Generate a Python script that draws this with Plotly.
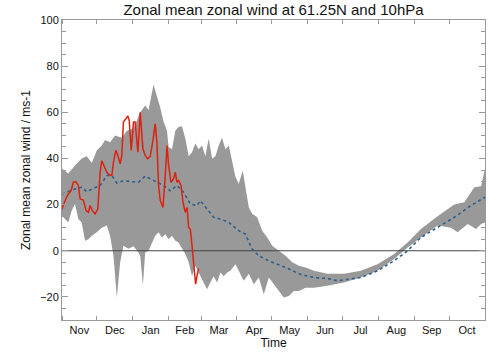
import pandas as pd
import plotly.graph_objects as go

BASE = "2022-11-01"

# days since 1 Nov, values in m/s
upper_days = [0, 5.4, 11.2, 17, 21.4, 25.7, 30, 34.3, 37.2, 41.5, 45.8, 51.6, 56, 61.7, 67.5, 71.8, 74.7, 79, 81.9,
              84.8, 87.6, 90.6, 92, 94.9, 97.8, 100.6, 103.5, 106.4, 109.3, 112.2, 115, 117.9, 120.8, 123.7, 126.6,
              129.5, 132.4, 135.2, 138.1, 141, 143.9, 146.8, 149.7, 152.5, 156, 158.3, 161.2, 164.1, 168.4, 172.8,
              177.1, 181.4, 187.1, 192.9, 198.7, 204.4, 210.2, 217.4, 229, 243.3, 257.8, 272.2, 286.6, 298.2, 309.7,
              324.1, 338.5, 347.1, 355.8, 361.6, 365]
upper_vals = [35.6, 33.5, 37, 40, 41, 38, 43.5, 45.6, 48, 47, 50, 49, 52, 53, 60, 63, 61, 72, 67,
              62, 56, 52, 45, 44, 52, 53.6, 54, 48.7, 41, 42.7, 46.5, 44, 45.6, 41, 48.7,
              40, 41, 45.6, 49, 44, 45.6, 39, 32, 29, 34.8, 27.5, 18.8, 16, 14.5, 8.7,
              5.8, 2.2, 0, -2.2, -5, -6.5, -7.2, -8.7, -10, -10, -8.7, -5.8, -1.4, 3.6, 9.4,
              15, 20, 21, 27.5, 28, 35.5]

lower_days = [0, 5.4, 8.4, 11.2, 14.1, 17, 19.9, 22.8, 25.7, 30, 34.3, 38.7, 41.5, 44.4, 47.3, 50.2, 53, 57.4,
              61.7, 66, 67.5, 69.8, 71.8, 74.7, 77.6, 80.4, 83.3, 86.2, 89.1, 92, 94.9, 97.8, 100.6, 103.5, 106.4,
              109.3, 112.2, 115, 117.9, 122.2, 125.2, 128, 130.9, 133.8, 136.7, 139.5, 142.5, 145.3, 149.7, 152.5,
              156.8, 161.2, 165.5, 169.8, 174.1, 178.5, 182.8, 187.1, 191.4, 195.8, 200.1, 204.4, 210.2, 217.4,
              229, 243.3, 257.8, 272.2, 286.6, 298.2, 309.7, 324.1, 335.6, 341.4, 350.1, 357.3, 361.6, 365]
lower_vals = [15.2, 12.3, 17.4, 20.3, 13.8, 12.3, 4.3, 5, 6.5, 8, 10, 10.9, 6.5, -2.2, -20.3, -5, 2.2, 0.9,
              2, -0.7, -2.2, -15, -0.7, 0, 3.6, 6.5, 8, 5.8, 7.2, 5, 6.5, 4.3, 3.6, 0.9, -1.4,
              -5, -11, -6.5, -9.4, -13.8, -16.7, -13.8, -11, -13.8, -9.4, -11, -9.4, -8.7, -5.8, -8.7,
              -13, -10, -14.5, -11.6, -18.8, -11.6, -14.5, -17.4, -20.3, -19.6, -17.4, -17.4, -16, -16,
              -15.2, -13.8, -11.6, -8.7, -3.6, 1.4, 5.8, 10.9, 10, 8, 11.6, 9.4, 11.6, 12.3]

mean_days = [0, 11.2, 17, 21.4, 27.1, 32.9, 38.7, 43, 47.3, 53, 58.8, 66, 71.8, 76.1, 81.9, 87.6, 93.4, 99.2,
             104.9, 110.7, 116.5, 119.4, 125.2, 130.9, 138.1, 143.9, 152.5, 158.3, 164.1, 169.8, 181.4, 192.9,
             204.4, 217.4, 229, 237.6, 257.8, 272.2, 286.6, 298.2, 309.7, 324.1, 338.5, 352.9, 365]
mean_vals = [24.6, 26.8, 27.5, 25.6, 27, 28.3, 32.6, 32.6, 29.4, 30.4, 30, 29.7, 32.3, 31.2, 29.7, 28.3, 26, 28.3,
             25.4, 20.3, 19.6, 21.7, 18.1, 14.5, 13.5, 12.3, 8.7, 7.2, 0.7, -2.2, -5, -7.2,
             -10, -11.6, -12, -13, -11.6, -8.7, -4.3, 0, 5.8, 10, 14.5, 19.6, 23.2]

obs_days = [0, 2.6, 5.4, 7.8, 9.8, 11.9, 14.1, 15.6, 18.4, 20.8, 22.8, 24.2, 26.2, 28.5, 30.9, 32.9, 34.3, 36.6,
            38.7, 40.7, 43, 44.4, 46.5, 48.2, 50.2, 51.6, 53, 55.1, 56.8, 58, 59.7, 61.7, 63.1, 65.5, 67.5, 69.8,
            71.8, 73.8, 76.1, 78.5, 80.4, 81.9, 83.3, 84.8, 87.1, 89.1, 90.6, 92, 94, 96.3, 97.8, 99.2, 100.6,
            102.7, 104.4, 106.4, 107.9, 109.3, 110.7, 112.2, 113.6, 115.3, 116.5, 117.9]
obs_vals = [18.1, 21.7, 24.6, 26, 29.7, 30, 28.3, 22.5, 22, 17.4, 16.7, 19.6, 17.4, 16, 18.1, 34, 39, 36.2,
            34, 32.9, 32.6, 38.4, 43.5, 41.3, 37.7, 41.3, 55.8, 57.2, 58.4, 56.5, 43.5, 55.8, 55.8, 42.7, 60, 44.2,
            41.3, 39.9, 40.8, 47.8, 55, 47, 28.3, 21.7, 18.8, 32.6, 45.6, 37, 29.7, 31.2, 34, 29.7, 30.4,
            28.3, 21, 16.7, 18.8, 10.1, 9.4, 2.2, -5, -14.5, -10.9, -7.7]


def to_dates(days):
    return list(pd.Timestamp(BASE) + pd.to_timedelta(days, unit="D"))


ud, ld = to_dates(upper_days), to_dates(lower_days)
band_x = ud + ld[::-1]
band_y = upper_vals + lower_vals[::-1]

fig = go.Figure()
fig.add_trace(go.Scatter(x=band_x, y=band_y, fill="toself", fillcolor="#999999",
                         line=dict(width=0, color="#999999"), mode="lines", hoverinfo="skip",
                         showlegend=False))
x0, x1 = pd.Timestamp(BASE), pd.Timestamp("2023-11-01")
fig.add_trace(go.Scatter(x=[x0, x1], y=[0, 0], mode="lines",
                         line=dict(color="#444444", width=1.2), showlegend=False))
fig.add_trace(go.Scatter(x=to_dates(mean_days), y=mean_vals, mode="lines",
                         line=dict(color="#2d5f8c", width=1.6, dash="dot"), showlegend=False))
fig.add_trace(go.Scatter(x=to_dates(obs_days), y=obs_vals, mode="lines",
                         line=dict(color="#dd2211", width=1.5), showlegend=False))

fig.update_layout(
    width=504, height=360,
    margin=dict(l=62, r=19, t=20, b=40),
    paper_bgcolor="white", plot_bgcolor="white",
    font=dict(family="Liberation Sans, Arial, sans-serif", color="#111111", size=11),
    title=dict(text="Zonal mean zonal wind at 61.25N and 10hPa", x=273.5 / 504, xanchor="center",
               y=1 - 10 / 360, yanchor="middle", yref="container",
               font=dict(size=15, color="#111111")),
)
fig.update_xaxes(
    type="date", range=[x0, x1], tick0=BASE, dtick="M1", tickformat="%b", ticklabelmode="period",
    ticks="inside", ticklen=4, tickcolor="#999999", showgrid=False, zeroline=False,
    showline=True, linecolor="#999999", linewidth=1, mirror="ticks",
    title=dict(text="Time", standoff=2, font=dict(size=12)), tickfont=dict(size=11),
    automargin=False,
)
fig.update_yaxes(
    range=[-30, 100], tick0=0, dtick=20, ticks="inside", ticklen=6, tickcolor="#999999",
    minor=dict(dtick=5, ticks="inside", ticklen=4, tickcolor="#999999"),
    showgrid=False, zeroline=False, showline=True, linecolor="#999999", linewidth=1, mirror="ticks",
    title=dict(text="Zonal mean zonal wind / ms-1", standoff=6, font=dict(size=12)),
    tickfont=dict(size=11), automargin=False,
)

fig.write_html("out.html", config={"displayModeBar": False},
               post_script="document.body.style.margin='0';")
